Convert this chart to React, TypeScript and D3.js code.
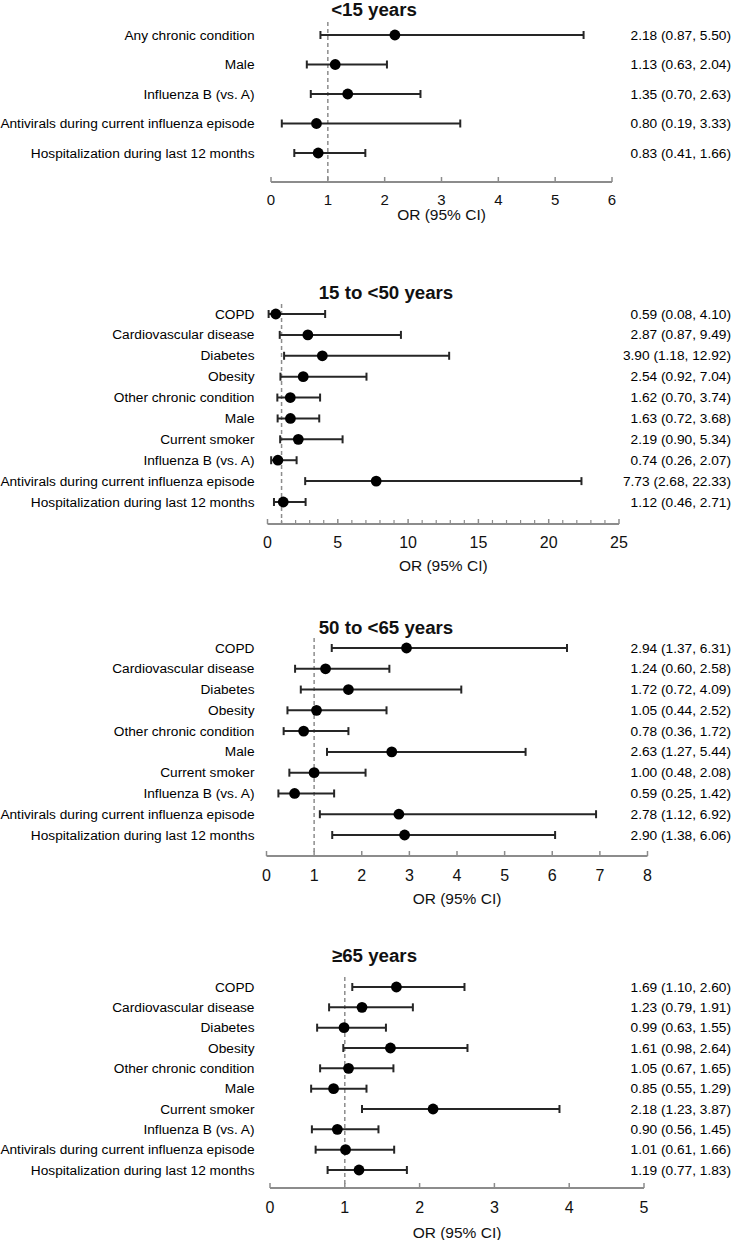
import React from "react";
import * as d3 from "d3";

// ---------- data ----------
const panelTitles = ["<15 years", "15 to <50 years", "50 to <65 years", "≥65 years"];

const factorsChild = [
  "Any chronic condition",
  "Male",
  "Influenza B (vs. A)",
  "Antivirals during current influenza episode",
  "Hospitalization during last 12 months",
];
const factorsAdult = [
  "COPD",
  "Cardiovascular disease",
  "Diabetes",
  "Obesity",
  "Other chronic condition",
  "Male",
  "Current smoker",
  "Influenza B (vs. A)",
  "Antivirals during current influenza episode",
  "Hospitalization during last 12 months",
];

const orLt15 = [2.18, 1.13, 1.35, 0.8, 0.83];
const loLt15 = [0.87, 0.63, 0.7, 0.19, 0.41];
const hiLt15 = [5.5, 2.04, 2.63, 3.33, 1.66];

const or15to50 = [0.59, 2.87, 3.9, 2.54, 1.62, 1.63, 2.19, 0.74, 7.73, 1.12];
const lo15to50 = [0.08, 0.87, 1.18, 0.92, 0.7, 0.72, 0.9, 0.26, 2.68, 0.46];
const hi15to50 = [4.1, 9.49, 12.92, 7.04, 3.74, 3.68, 5.34, 2.07, 22.33, 2.71];

const or50to65 = [2.94, 1.24, 1.72, 1.05, 0.78, 2.63, 1.0, 0.59, 2.78, 2.9];
const lo50to65 = [1.37, 0.6, 0.72, 0.44, 0.36, 1.27, 0.48, 0.25, 1.12, 1.38];
const hi50to65 = [6.31, 2.58, 4.09, 2.52, 1.72, 5.44, 2.08, 1.42, 6.92, 6.06];

const orGe65 = [1.69, 1.23, 0.99, 1.61, 1.05, 0.85, 2.18, 0.9, 1.01, 1.19];
const loGe65 = [1.1, 0.79, 0.63, 0.98, 0.67, 0.55, 1.23, 0.56, 0.61, 0.77];
const hiGe65 = [2.6, 1.91, 1.55, 2.64, 1.65, 1.29, 3.87, 1.45, 1.66, 1.83];

const axisMax = [6, 25, 8, 5];
const majorStep = [1, 5, 1, 1];
const minorStep = [0, 1, 0, 0];
const axisLabel = "OR (95% CI)";
const refValue = 1;

// ---------- layout ----------
const W = 733;
const H = 1240;
const FONT = "'Liberation Sans', Arial, Helvetica, sans-serif";

const layouts = [
  { titleX: 374, titleY: 9, rowTop: 35, rowBottom: 153, axisY: 182, x0: 271, x1: 612, tickDy: 17, tickFs: 15, labelY: 214, dashTop: 22 },
  { titleX: 386, titleY: 292, rowTop: 314, rowBottom: 502, axisY: 524, x0: 267.5, x1: 619, tickDy: 18, tickFs: 16, labelY: 565, dashTop: 304 },
  { titleX: 386, titleY: 627, rowTop: 648, rowBottom: 835, axisY: 856, x0: 266.5, x1: 647.5, tickDy: 19, tickFs: 16, labelY: 898, dashTop: 638 },
  { titleX: 374.5, titleY: 955, rowTop: 987, rowBottom: 1170, axisY: 1188, x0: 270, x1: 644, tickDy: 19, tickFs: 16, labelY: 1232, dashTop: 977 },
];

const panels = [
  { factors: factorsChild, or: orLt15, lo: loLt15, hi: hiLt15 },
  { factors: factorsAdult, or: or15to50, lo: lo15to50, hi: hi15to50 },
  { factors: factorsAdult, or: or50to65, lo: lo50to65, hi: hi50to65 },
  { factors: factorsAdult, or: orGe65, lo: loGe65, hi: hiGe65 },
];

const fmt = d3.format(".2f");

function Panel({ idx }: { idx: number }) {
  const L = layouts[idx];
  const P = panels[idx];
  const x = d3.scaleLinear().domain([0, axisMax[idx]]).range([L.x0, L.x1]);
  const y = d3
    .scalePoint<number>()
    .domain(d3.range(P.factors.length))
    .range([L.rowTop, L.rowBottom]);
  const majors = d3.range(0, axisMax[idx] + 1e-9, majorStep[idx]);
  const minors = minorStep[idx]
    ? d3.range(0, axisMax[idx] + 1e-9, minorStep[idx]).filter((v) => v % majorStep[idx] !== 0)
    : [];
  const cap = 4;
  return (
    <g>
      <text
        x={L.titleX}
        y={L.titleY}
        textAnchor="middle"
        dominantBaseline="central"
        fontFamily={FONT}
        fontWeight="bold"
        fontSize={18.7}
        fill="#111"
      >
        {panelTitles[idx]}
      </text>
      <line
        x1={x(refValue)}
        x2={x(refValue)}
        y1={L.dashTop}
        y2={L.axisY}
        stroke="#8c8c8c"
        strokeWidth={1.5}
        strokeDasharray="4,3"
      />
      <line x1={x(0)} x2={x(axisMax[idx])} y1={L.axisY} y2={L.axisY} stroke="#8c8c8c" strokeWidth={2} />
      {majors.map((v) => (
        <g key={"M" + v}>
          <line x1={x(v)} x2={x(v)} y1={L.axisY} y2={L.axisY - 5} stroke="#8c8c8c" strokeWidth={1.5} />
          <text
            x={x(v)}
            y={L.axisY + L.tickDy}
            textAnchor="middle"
            dominantBaseline="central"
            fontFamily={FONT}
            fontSize={L.tickFs}
            fill="#111"
          >
            {v}
          </text>
        </g>
      ))}
      {minors.map((v) => (
        <line key={"m" + v} x1={x(v)} x2={x(v)} y1={L.axisY} y2={L.axisY - 4} stroke="#8c8c8c" strokeWidth={1.2} />
      ))}
      <text
        x={(L.x0 + L.x1) / 2}
        y={L.labelY}
        textAnchor="middle"
        dominantBaseline="central"
        fontFamily={FONT}
        fontSize={15.5}
        fill="#111"
      >
        {axisLabel}
      </text>
      {P.factors.map((f, i) => {
        const yy = y(i) as number;
        return (
          <g key={f + i}>
            <text
              x={254.5}
              y={yy}
              textAnchor="end"
              dominantBaseline="central"
              fontFamily={FONT}
              fontSize={13.7}
              fill="#000"
            >
              {f}
            </text>
            <line x1={x(P.lo[i])} x2={x(P.hi[i])} y1={yy} y2={yy} stroke="#262626" strokeWidth={2} />
            <line x1={x(P.lo[i])} x2={x(P.lo[i])} y1={yy - cap} y2={yy + cap} stroke="#262626" strokeWidth={2} />
            <line x1={x(P.hi[i])} x2={x(P.hi[i])} y1={yy - cap} y2={yy + cap} stroke="#262626" strokeWidth={2} />
            <circle cx={x(P.or[i])} cy={yy} r={5.4} fill="#000" />
            <text
              x={731}
              y={yy}
              textAnchor="end"
              dominantBaseline="central"
              fontFamily={FONT}
              fontSize={13.7}
              fill="#000"
            >
              {`${fmt(P.or[i])} (${fmt(P.lo[i])}, ${fmt(P.hi[i])})`}
            </text>
          </g>
        );
      })}
    </g>
  );
}

export default function App() {
  return (
    <svg
      width={W}
      height={H}
      viewBox={`0 0 ${W} ${H}`}
      style={{ position: "absolute", left: 0, top: 0, background: "#fff" }}
    >
      <rect x={0} y={0} width={W} height={H} fill="#fff" />
      {panelTitles.map((_, i) => (
        <Panel key={i} idx={i} />
      ))}
    </svg>
  );
}
